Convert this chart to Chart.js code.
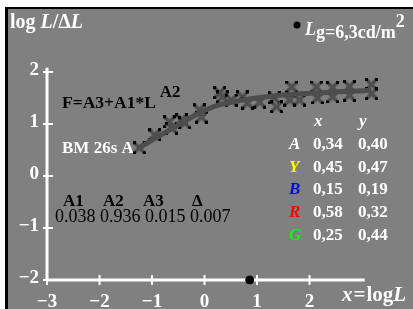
<!DOCTYPE html>
<html>
<head>
<meta charset="UTF-8">
<script src="https://cdn.jsdelivr.net/npm/chart.js"></script>
<style>
  html, body { margin: 0; padding: 0; background: #ffffff; overflow: hidden; }
  #wrap { position: absolute; left: 0; top: 0; width: 413px; height: 309px; }
</style>
</head>
<body>
<div id="wrap"><canvas id="c"></canvas></div>
<script>
// measured points (log L, log L/dL)
const measX = [-1.24, -0.95, -0.67, -0.63, -0.44, -0.38, -0.10, -0.06, 0.29, 0.34, 0.51, 0.72, 0.82, 1.05, 1.33, 1.37, 1.62, 1.66, 1.81, 2.13, 2.15, 2.44, 2.44, 2.76, 2.76, 3.18, 3.18];
const measY = [0.54, 0.79, 1.04, 0.92, 1.08, 1.02, 1.27, 1.13, 1.60, 1.52, 1.46, 1.52, 1.40, 1.42, 1.50, 1.33, 1.46, 1.71, 1.46, 1.71, 1.50, 1.70, 1.52, 1.72, 1.55, 1.76, 1.58];
// fitted curve
const fitX = [-1.24, -0.95, -0.67, -0.38, -0.10, 0.29, 0.67, 1.43, 2.00, 3.18];
const fitY = [0.54, 0.72, 0.88, 1.05, 1.21, 1.37, 1.45, 1.55, 1.59, 1.65];
// adaptation luminance marker on x axis
const markX = [0.86];
const markY = [-2];

const xTicks = [-3, -2, -1, 0, 1, 2];
const yTicks = [-2, -1, 0, 1, 2];
const paramNames = ['A1', 'A2', 'A3', 'Δ'];
const paramValues = ['0.038', '0.936', '0.015', '0.007'];
const tableRows = [
  ['A', '0,34', '0,40', '#ffffff'],
  ['Y', '0,45', '0,47', '#ffff00'],
  ['B', '0,15', '0,19', '#0000ff'],
  ['R', '0,58', '0,32', '#ff0000'],
  ['G', '0,25', '0,44', '#00ff00']
];

const serif = '"Liberation Serif", "DejaVu Serif", serif';

// marker: gray cross with black dots at the tips
const mark = document.createElement('canvas');
mark.width = 13; mark.height = 13;
(function () {
  const g = mark.getContext('2d');
  g.strokeStyle = '#4f4f4f';
  g.lineWidth = 3.5;
  g.beginPath();
  g.moveTo(2, 2); g.lineTo(11, 11);
  g.moveTo(11, 2); g.lineTo(2, 11);
  g.stroke();
  g.fillStyle = '#000000';
  [[0, 0], [10, 0], [0, 10], [10, 10]].forEach(p => g.fillRect(p[0], p[1], 3, 3));
})();

function drawParts(ctx, parts, x, y) {
  parts.forEach(p => {
    ctx.font = p[1];
    ctx.fillText(p[0], x, y + (p[2] || 0));
    x += ctx.measureText(p[0]).width + (p[3] || 0);
  });
}

const bgPlugin = {
  id: 'bg',
  beforeDraw(chart) {
    const ctx = chart.ctx;
    const a = chart.chartArea;
    ctx.save();
    ctx.fillStyle = '#808080';
    ctx.fillRect(a.left, a.top, a.right - a.left, a.bottom - a.top);
    ctx.fillStyle = '#000000';
    ctx.fillRect(a.left - 3, a.top - 2, a.right - a.left + 3, 2);
    ctx.fillRect(a.left - 3, a.top - 2, 3, a.bottom - a.top + 2);
    ctx.restore();
  },
  beforeDatasetsDraw(chart) {
    const ctx = chart.ctx;
    const xs = chart.scales.x, ys = chart.scales.y;
    const x0 = xs.getPixelForValue(-3), y0 = ys.getPixelForValue(-2);
    const xEnd = xs.getPixelForValue(3.05), yEnd = ys.getPixelForValue(2.08);
    ctx.save();
    ctx.strokeStyle = '#ffffff';
    ctx.lineWidth = 3;
    ctx.beginPath();
    ctx.moveTo(x0, y0); ctx.lineTo(xEnd, y0);
    ctx.moveTo(x0, y0); ctx.lineTo(x0, yEnd);
    ctx.stroke();
    ctx.lineWidth = 2;
    ctx.beginPath();
    yTicks.forEach(v => {
      const p = ys.getPixelForValue(v);
      ctx.moveTo(x0 - 4, p); ctx.lineTo(x0 + 6, p);
    });
    xTicks.forEach(v => {
      const p = xs.getPixelForValue(v);
      ctx.moveTo(p, y0 - 5); ctx.lineTo(p, y0 + 5);
    });
    ctx.stroke();

    ctx.fillStyle = '#ffffff';
    ctx.font = 'bold 19px ' + serif;
    ctx.textAlign = 'right';
    ctx.textBaseline = 'middle';
    yTicks.forEach(v => {
      ctx.fillText(v < 0 ? '\u2212' + Math.abs(v) : String(v), x0 - 8, ys.getPixelForValue(v) - 2);
    });
    ctx.textAlign = 'center';
    ctx.textBaseline = 'alphabetic';
    xTicks.forEach(v => {
      ctx.fillText(v < 0 ? '\u2212' + Math.abs(v) : String(v), xs.getPixelForValue(v), 307);
    });

    // axis titles
    ctx.textAlign = 'left';
    const b20 = 'bold 20px ' + serif, bi20 = 'bold italic 20px ' + serif;
    drawParts(ctx, [['log ', b20], ['L', bi20], ['/\u0394', b20], ['L', bi20]], 10, 28);
    const b21 = 'bold 21px ' + serif, bi21 = 'bold italic 21px ' + serif;
    drawParts(ctx, [['x', bi21, 0, 1], ['=', b21, 0, 1], ['log', b21], ['L', bi21]], 342, 301);

    // luminance label
    ctx.fillStyle = '#000000';
    ctx.beginPath(); ctx.arc(297, 25, 3.5, 0, Math.PI * 2); ctx.fill();
    ctx.fillStyle = '#ffffff';
    const b18 = 'bold 18px ' + serif, bi18 = 'bold italic 18px ' + serif;
    drawParts(ctx, [['L', bi18], ['g=6,3cd/m', b18, 3], ['2', b18, -8]], 305, 35);

    // formula
    ctx.fillStyle = '#000000';
    const b17 = 'bold 17px ' + serif;
    drawParts(ctx, [['F=A3+A1*L', 'bold 17.5px ' + serif, 0, 4], ['A2', b17, -11]], 62, 108);
    ctx.fillStyle = '#ffffff';
    ctx.font = b17;
    ctx.fillText('BM 26s A', 62, 153);

    ctx.fillStyle = '#000000';
    const px = [63, 103, 143, 192];
    paramNames.forEach((n, i) => ctx.fillText(n, px[i], 206));
    ctx.font = '18px ' + serif;
    let vx = 55;
    paramValues.forEach(v => { ctx.fillText(v, vx, 222); vx += ctx.measureText(v + ' ').width; });

    // colour table
    ctx.font = 'bold italic 17px ' + serif;
    ctx.fillStyle = '#ffffff';
    ctx.fillText('x', 314, 126);
    ctx.fillText('y', 359, 126);
    tableRows.forEach((r, i) => {
      const yy = 149 + i * 22.7;
      ctx.font = 'bold italic 17px ' + serif;
      ctx.fillStyle = r[3];
      ctx.fillText(r[0], 289, yy);
      ctx.font = b17;
      ctx.fillStyle = '#ffffff';
      ctx.fillText(r[1], 313, yy);
      ctx.fillText(r[2], 358, yy);
    });
    ctx.restore();
  }
};

new Chart(document.getElementById('c'), {
  type: 'scatter',
  data: {
    datasets: [
      {
        data: fitX.map((v, i) => ({ x: v, y: fitY[i] })),
        showLine: true,
        borderColor: '#4d4d4d',
        borderWidth: 5,
        cubicInterpolationMode: 'monotone',
        pointRadius: 0
      },
      {
        data: measX.map((v, i) => ({ x: v, y: measY[i] })),
        pointStyle: mark,
        pointRadius: 6
      },
      {
        data: markX.map((v, i) => ({ x: v, y: markY[i] })),
        backgroundColor: '#000000',
        borderColor: '#000000',
        pointRadius: 4
      }
    ]
  },
  options: {
    responsive: true,
    maintainAspectRatio: false,
    animation: false,
    layout: { autoPadding: false, padding: { left: 8, top: 9, right: 0, bottom: 0 } },
    plugins: { legend: { display: false }, tooltip: { enabled: false } },
    scales: {
      x: { type: 'linear', min: -3.743, max: 3.971, display: false },
      y: { type: 'linear', min: -2.558, max: 3.21, display: false }
    }
  },
  plugins: [bgPlugin]
});
</script>
</body>
</html>
